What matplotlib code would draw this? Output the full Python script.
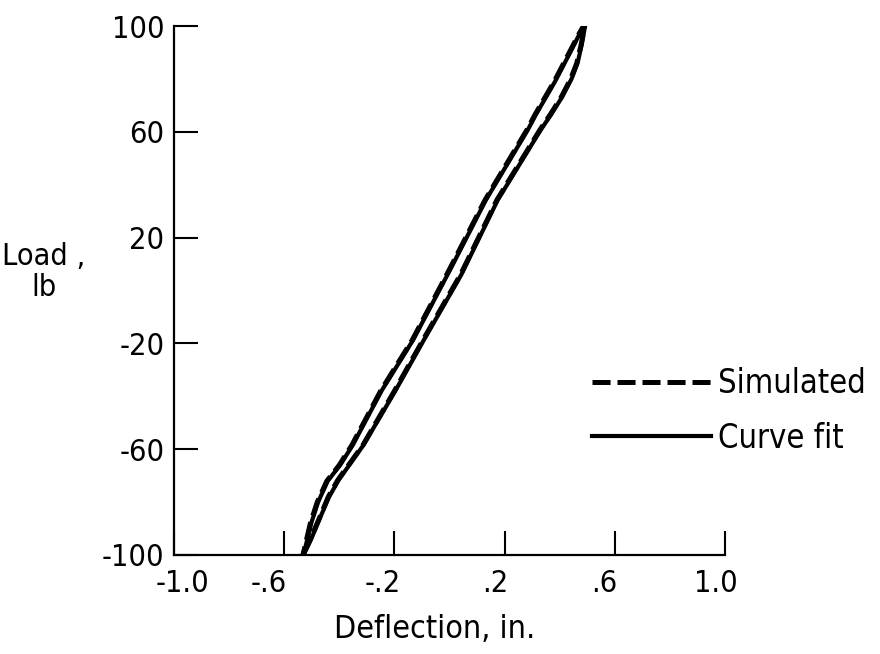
import numpy as np
import matplotlib
matplotlib.use("Agg")
import matplotlib.pyplot as plt
import matplotlib.transforms as mtransforms

# hysteresis loop: up the right branch, back down the left one
sim_defl = [-0.532, -0.505, -0.472, -0.440, -0.405, -0.314, -0.200, -0.096, 0.040,
            0.172, 0.328, 0.365, 0.405, 0.440, 0.462, 0.478, 0.492,
            0.470, 0.440, 0.380, 0.310, 0.281, 0.129, 0.000, -0.135,
            -0.250, -0.354, -0.400, -0.445, -0.480, -0.505, -0.532]
sim_load = [-100, -94, -86, -78, -71.6, -58.4, -38, -18.7, 6,
            34.2, 60.7, 66.4, 73, 80, 86, 93, 101,
            97, 91, 79, 66.4, 60.7, 34.2, 8, -18.7,
            -38, -58.4, -66, -72, -80, -88, -100]

fit_defl = [-0.530, -0.502, -0.470, -0.437, -0.402, -0.312, -0.197, -0.093, 0.043,
            0.175, 0.331, 0.368, 0.408, 0.443, 0.465, 0.480, 0.494,
            0.472, 0.443, 0.383, 0.313, 0.284, 0.132, 0.003, -0.132,
            -0.247, -0.351, -0.397, -0.442, -0.477, -0.502, -0.530]
fit_load = sim_load

xticks = [-1.0, -0.6, -0.2, 0.2, 0.6, 1.0]
xticklabels = ["-1.0", "-.6", "-.2", ".2", ".6", "1.0"]
xlabel_shift = [8, -15, -12, -9, -11, -9]   # px, lettering sits off the ticks
yticks = [-100, -60, -20, 20, 60, 100]

plt.rcParams['font.family'] = ['DejaVu Sans']
plt.rcParams['font.stretch'] = 'condensed'
plt.rcParams['font.size'] = 21
plt.rcParams['axes.unicode_minus'] = False
plt.rcParams['lines.scale_dashes'] = False

fig = plt.figure(figsize=(8.8, 6.54), dpi=100)
ax = fig.add_axes([174 / 880, 1 - 555 / 654, 551 / 880, 529 / 654])

ax.plot(sim_defl, sim_load, color="black", lw=3.6, linestyle=(0, (13, 5)),
        label="Simulated")
ax.plot(fit_defl, fit_load, color="black", lw=3.0, label="Curve fit")

ax.set_xlim(-1.0, 1.0)
ax.set_ylim(-100, 100)
ax.spines['top'].set_visible(False)
ax.spines['right'].set_visible(False)
for s in ['left', 'bottom']:
    ax.spines[s].set_linewidth(1.6)

ax.set_xticks(xticks)
ax.set_xticklabels(xticklabels)
ax.set_yticks(yticks)
ax.tick_params(direction='in', length=17, width=1.5, labelsize=22)
ax.tick_params(axis='x', pad=10)
ax.tick_params(axis='y', pad=7)

for lab, dx in zip(ax.get_xticklabels(), xlabel_shift):
    off = mtransforms.ScaledTranslation(dx / 100, 0, fig.dpi_scale_trans)
    lab.set_transform(lab.get_transform() + off)

fig.text(435 / 880, 1 - 630 / 654, "Deflection, in.", ha='center', va='center', fontsize=23)
fig.text(44 / 880, 1 - 272 / 654, "Load ,\nlb", ha='center', va='center',
         multialignment='center', fontsize=22, linespacing=1.1)

ax.legend(loc='center left', bbox_to_anchor=(592 / 880, 1 - 411 / 654),
          bbox_transform=fig.transFigure, frameon=False, borderpad=0,
          borderaxespad=0, handlelength=3.65, handletextpad=0.22,
          labelspacing=0.65, fontsize=23.5)

fig.savefig("out.png", dpi=100)
